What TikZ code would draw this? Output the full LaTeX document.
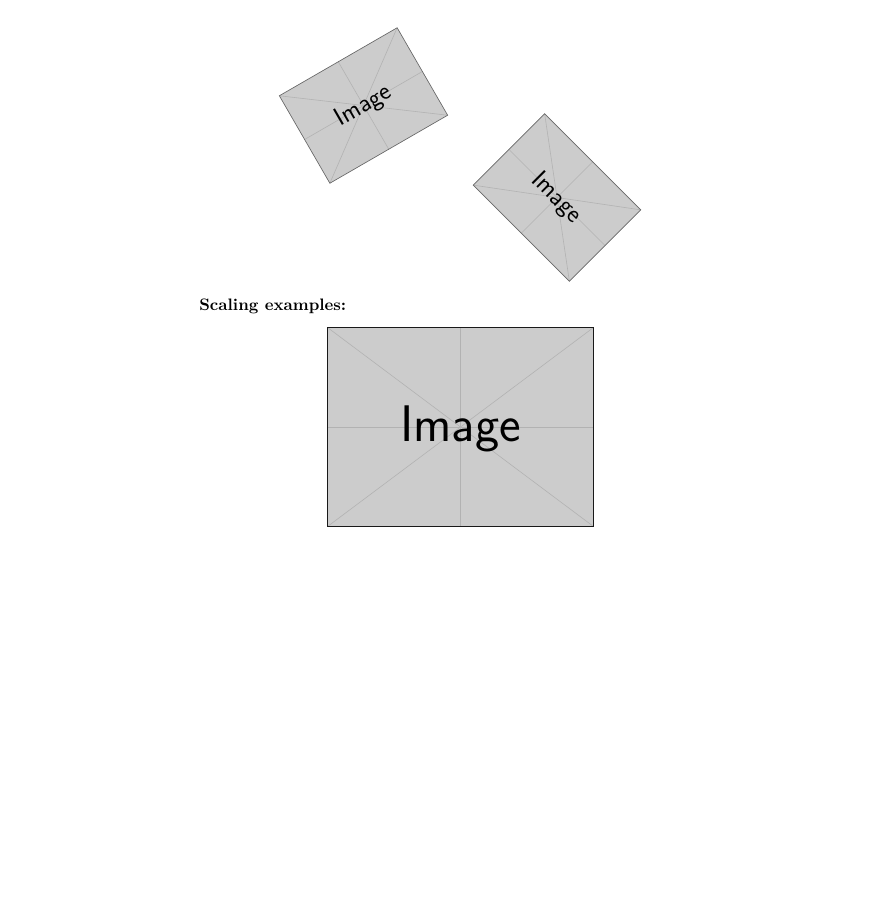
\documentclass[tikz,border=0pt]{standalone}
\tikzset{
  imgfill/.style={fill=black!20},
  imgline/.style={draw=black!30, line width=0.35pt},
  imgtext/.style={font=\sffamily, text=black, inner sep=0pt, transform shape},
  smallborder/.style={draw=black!60, line width=0.4pt},
  bigborder/.style={draw=black!90, line width=1pt},
  heading/.style={font=\bfseries, anchor=base west, inner sep=0pt}
}
\newcommand{\phimg}[9]{%
  \begin{scope}[shift={(#1,#2)}, rotate=#3]
    \fill[imgfill] (-#4/2,-#5/2) rectangle (#4/2,#5/2);
    \draw[imgline] (-#4/2,-#5/2) -- (#4/2,#5/2);
    \draw[imgline] (-#4/2,#5/2) -- (#4/2,-#5/2);
    \draw[imgline] (0,-#5/2) -- (0,#5/2);
    \draw[imgline] (-#4/2,0) -- (#4/2,0);
    \draw[#7] (-#4/2,-#5/2) rectangle (#4/2,#5/2);
    \node[imgtext, font=\fontsize{#6}{#6}\selectfont\sffamily] (#8) at (0,#9) {Image};
  \end{scope}}
\begin{document}
\begin{tikzpicture}[x=0.60241pt, y=-0.60241pt]
  \useasboundingbox (0,0) rectangle (892,916);
  \phimg{363.5}{105.5}{30}{136}{101}{15.5}{smallborder}{imgA}{0.8}
  \phimg{557}{197.5}{-45}{136}{101}{15.5}{smallborder}{imgB}{0.8}
  \node[heading] (title) at (199,310) {Scaling examples:};
  \phimg{460.5}{427}{0}{266}{199}{31}{bigborder}{imgC}{1.5}
\end{tikzpicture}
\end{document}
